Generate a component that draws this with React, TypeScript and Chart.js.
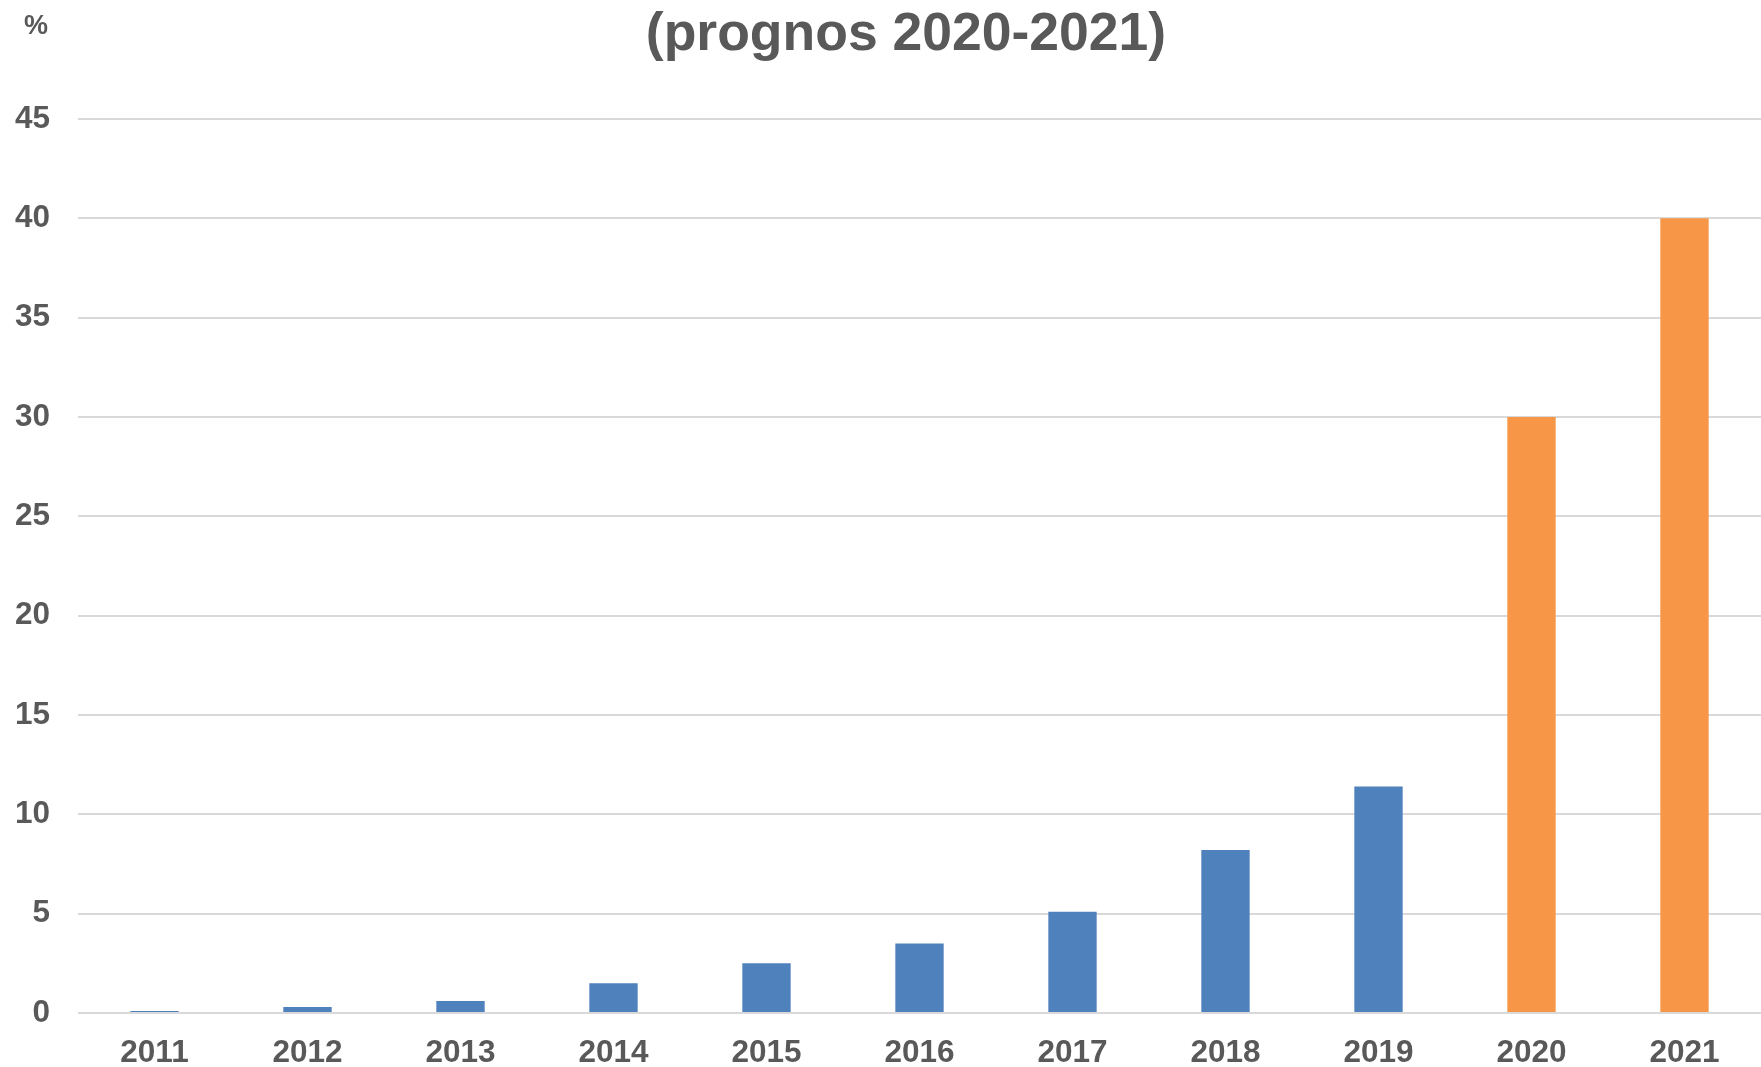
import React, { useEffect, useRef } from "react";
import { Chart, registerables } from "chart.js";

Chart.register(...registerables);

const TITLE = "(prognos 2020-2021)";
const UNIT = "%";
const YEARS = ["2011", "2012", "2013", "2014", "2015", "2016", "2017", "2018", "2019", "2020", "2021"];
const VALUES = [0.1, 0.3, 0.6, 1.5, 2.5, 3.5, 5.1, 8.2, 11.4, 30, 40];
const IS_FORECAST = [false, false, false, false, false, false, false, false, false, true, true];
const Y_MAX = 45;
const Y_STEP = 5;

const BLUE = "#4F81BD";
const ORANGE = "#F79646";
const TEXT = "#595959";
const GRID = "#d9d9d9";
const FONT = "'Liberation Sans', Arial, Helvetica, sans-serif";

export default function App() {
  const ref = useRef<HTMLCanvasElement | null>(null);

  useEffect(() => {
    if (!ref.current) return;
    const titlePlugin = {
      id: "customTitle",
      afterDraw(chart: any) {
        const ctx = chart.ctx;
        ctx.save();
        ctx.fillStyle = TEXT;
        ctx.textAlign = "center";
        ctx.textBaseline = "middle";
        ctx.font = `bold 53.5px ${FONT}`;
        ctx.fillText(TITLE, 906, 35);
        ctx.font = `bold 27px ${FONT}`;
        ctx.fillText(UNIT, 36, 27);
        ctx.restore();
      },
    };
    const chart = new Chart(ref.current, {
      type: "bar",
      data: {
        labels: YEARS,
        datasets: [
          {
            data: VALUES,
            backgroundColor: IS_FORECAST.map((f) => (f ? ORANGE : BLUE)),
            borderWidth: 0,
            barPercentage: 0.316,
            categoryPercentage: 1,
          },
        ],
      },
      options: {
        responsive: false,
        animation: false,
        layout: { padding: { top: 119, left: 0, right: 0, bottom: 0 } },
        plugins: { legend: { display: false }, tooltip: { enabled: false }, title: { display: false } },
        scales: {
          x: {
            grid: { display: false, drawTicks: false },
            border: { display: false },
            ticks: { color: TEXT, font: { family: FONT, size: 31.5, weight: "bold" }, padding: 21, maxRotation: 0 },
            afterFit: (s: any) => {
              s.height = 54;
            },
          },
          y: {
            min: 0,
            max: Y_MAX,
            grid: { color: GRID, lineWidth: 2, drawTicks: false },
            border: { display: false },
            ticks: {
              stepSize: Y_STEP,
              color: TEXT,
              font: { family: FONT, size: 31.5, weight: "bold" },
              padding: 28,
            },
            afterFit: (s: any) => {
              s.width = 78;
            },
          },
        },
      },
      plugins: [titlePlugin],
    } as any);
    return () => chart.destroy();
  }, []);

  return (
    <div style={{ position: "fixed", left: 0, top: 0, width: 1761, height: 1067, background: "#fff" }}>
      <canvas ref={ref} width={1761} height={1067} style={{ display: "block" }} />
    </div>
  );
}
